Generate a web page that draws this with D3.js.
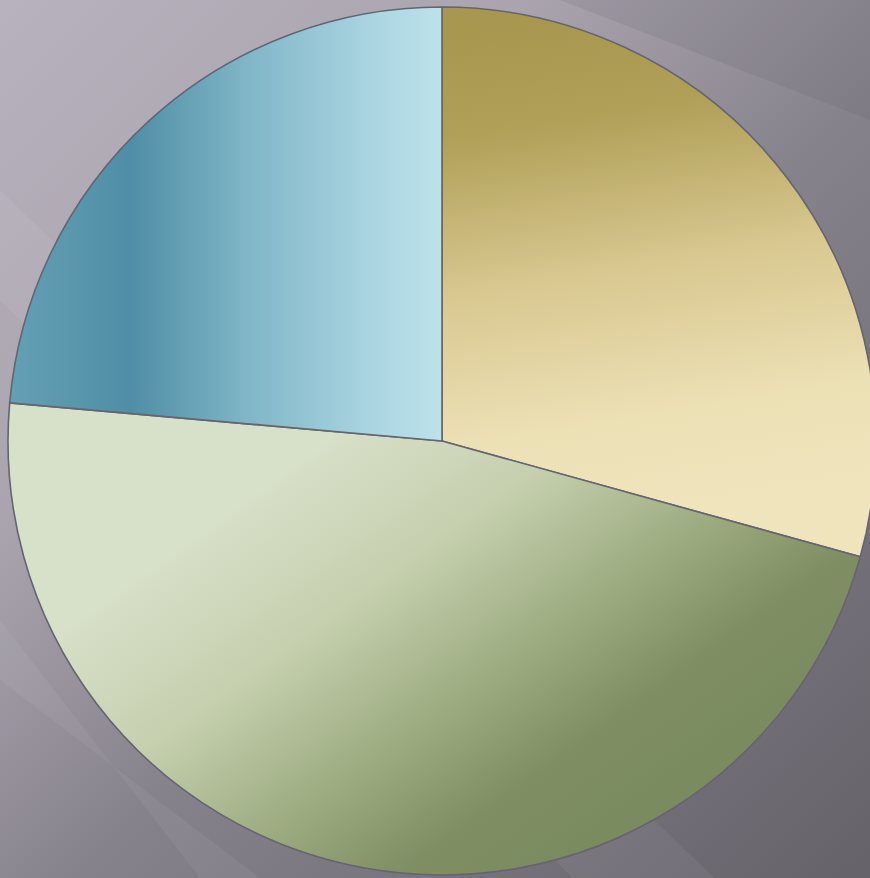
<!DOCTYPE html>
<html><head><meta charset="utf-8">
<script src="https://cdn.jsdelivr.net/npm/d3@7"></script>
<style>html,body{margin:0;padding:0;overflow:hidden;background:#8a8690}</style>
</head><body>
<script>
const categories = ["Gold", "Green", "Blue"];
const values = [29.3, 47.1, 23.6];

const W = 870, H = 878;
const cx = 442, cy = 441, R = 434;

const svg = d3.select("body").append("svg").attr("width", W).attr("height", H);
const defs = svg.append("defs");

function lin(id, x1, y1, x2, y2, stops, shift) {
  const g = defs.append("linearGradient").attr("id", id)
    .attr("gradientUnits", "userSpaceOnUse")
    .attr("x1", x1).attr("y1", y1).attr("x2", x2).attr("y2", y2);
  if (shift) g.attr("gradientTransform", `translate(${-cx},${-cy})`);
  stops.forEach(([o, c, op]) => g.append("stop").attr("offset", o).attr("stop-color", c).attr("stop-opacity", op == null ? 1 : op));
}

lin("bg", 0, 0, W, H, [[0, "#b8b2be"], [0.3, "#aaa4af"], [0.55, "#86828c"], [1, "#66626a"]]);
lin("gGold", 560, 20, 640, 520, [[0, "#a8984f"], [0.2, "#b0a058"], [0.5, "#d8c78f"], [0.8, "#ece0b5"], [1, "#efe4bc"]], true);
lin("gBlue", 10, 0, 442, 0, [[0, "#64a0b4"], [0.28, "#4f8ea6"], [0.55, "#80b6c7"], [0.85, "#acd6e2"], [1, "#bde2ea"]], true);
lin("gGreen", 230, 510, 510, 900, [[0, "#d7e0c8"], [0.3, "#c6d0af"], [0.6, "#9cab80"], [0.82, "#7f8f63"], [1, "#7b8b60"]], true);

svg.append("rect").attr("width", W).attr("height", H).attr("fill", "url(#bg)");
// soft diagonal streaks
svg.append("path").attr("d", `M0,190 L0,300 L${W},${H+300} L${W},${H+150} Z`).attr("fill", "#ffffff").attr("opacity", 0.05);
svg.append("path").attr("d", `M0,620 L0,680 L260,${H} L200,${H} Z`).attr("fill", "#ffffff").attr("opacity", 0.05);
svg.append("path").attr("d", `M560,0 L${W},0 L${W},120 Z`).attr("fill", "#5f5b63").attr("opacity", 0.15);

const fills = ["url(#gGold)", "url(#gGreen)", "url(#gBlue)"];
const pie = d3.pie().sort(null).startAngle(0).endAngle(2 * Math.PI);
const arc = d3.arc().innerRadius(0).outerRadius(R);

const data = categories.map((c, i) => ({ c, v: values[i] }));
const g = svg.append("g").attr("transform", `translate(${cx},${cy})`);
g.selectAll("path.slice").data(pie.value(d => d.v)(data)).join("path")
  .attr("class", "slice")
  .attr("d", arc)
  .attr("fill", (d, i) => fills[i])
  .attr("stroke", "#666470")
  .attr("stroke-width", 1.6)
  .attr("stroke-linejoin", "round");
</script>
</body></html>
